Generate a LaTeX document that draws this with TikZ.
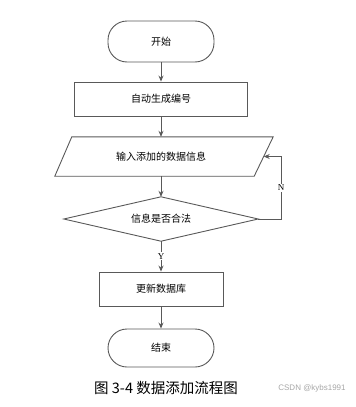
\documentclass[tikz,border=0pt]{standalone}
\usepackage{fontspec}
\newfontfamily\cjk{Noto Sans CJK SC}
\newfontfamily\serifyn{Liberation Serif}
\usetikzlibrary{arrows.meta,calc}
\begin{document}
\begin{tikzpicture}[x=1pt,y=-1pt,
  line/.style={draw=black!65,line width=0.9pt},
  arr/.style={line,-{Stealth[length=6pt,width=5pt]}},
  txt/.style={font=\cjk\fontsize{10}{12}\selectfont,inner sep=0pt},
  term/.style={line,txt,rounded corners=19pt,minimum width=106pt},
  proc/.style={line,txt,minimum height=34pt},
  lbl/.style={font=\serifyn\fontsize{9}{10}\selectfont,fill=white,inner sep=1pt}]
\useasboundingbox (0,0) rectangle (356,407);
\node[term,minimum height=41pt] (start) at (161,41.5) {开始};
\node[proc,minimum width=173pt] (gen) at (161,99) {自动生成编号};
\node[txt,minimum width=200pt,minimum height=39pt] (in) at (163.5,156.5) {\hspace*{-5pt}输入添加的数据信息};
\draw[line] ($(in.north west)+(8.5,0)$) -- ($(in.north east)+(9.5,0)$) -- ($(in.south east)+(-9.5,0)$) -- ($(in.south west)+(-8.5,0)$) -- cycle;
\node[txt,minimum width=194pt,minimum height=44pt] (dec) at (161,219) {信息是否合法};
\draw[line] (dec.north) -- (dec.east) -- (dec.south) -- (dec.west) -- cycle;
\node[proc,minimum width=124pt] (upd) at (161,289) {更新数据库};
\node[term,minimum height=38pt] (end) at (161,348) {结束};
\draw[arr] (start) -- (gen);
\draw[arr] (gen) -- (gen |- in.north);
\draw[arr] (dec |- in.south) -- (dec.north);
\draw[arr] (dec.south) -- (upd.north) node[lbl,pos=0.5] {Y};
\coordinate (rc) at (281,219);
\draw[arr] (dec.east) -- (rc) |- (in.east) node[lbl,pos=0.25] {N};
\draw[arr] (upd) -- (end);
\node[font=\cjk\fontsize{14.5}{16}\selectfont] (cap) at (166,388) {图 3-4 数据添加流程图};
\node[font=\fontspec{Liberation Sans}\fontsize{8}{9}\selectfont,text=black!35] (wm) at (312,388) {CSDN @kybs1991};
\end{tikzpicture}
\end{document}
